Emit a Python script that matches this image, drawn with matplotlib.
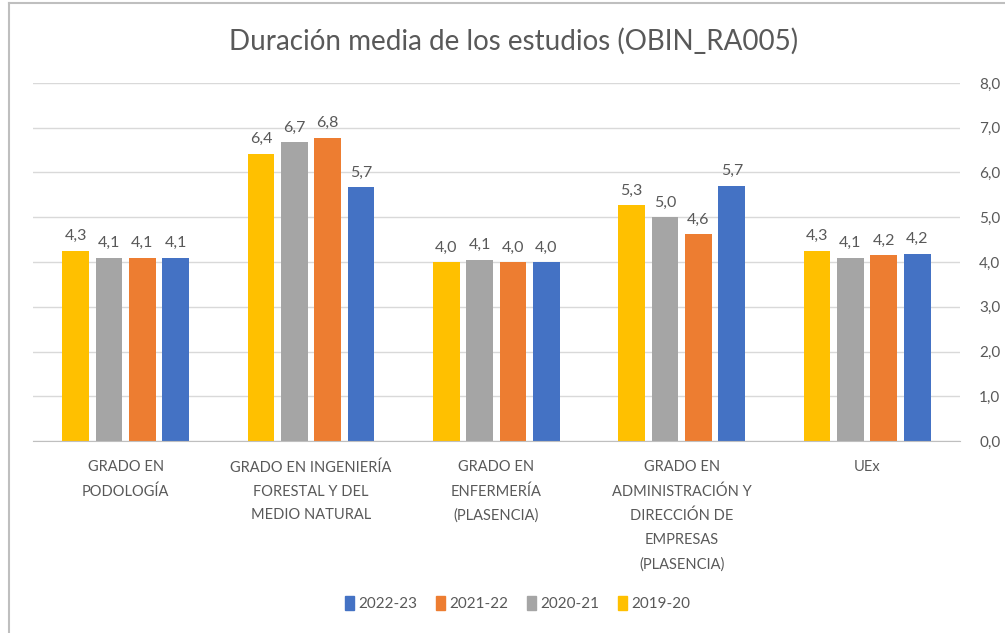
import numpy as np
import matplotlib.pyplot as plt
from matplotlib.lines import Line2D
from matplotlib.patches import Patch

plt.rcParams['font.family'] = ['Lato', 'DejaVu Sans']

categorias = ["GRADO EN\nPODOLOGÍA",
              "GRADO EN INGENIERÍA\nFORESTAL Y DEL\nMEDIO NATURAL",
              "GRADO EN\nENFERMERÍA\n(PLASENCIA)",
              "GRADO EN\nADMINISTRACIÓN Y\nDIRECCIÓN DE\nEMPRESAS\n(PLASENCIA)",
              "UEx"]
cursos = ["2019-20", "2020-21", "2021-22", "2022-23"]
v_2019 = [4.25, 6.42, 4.0, 5.27, 4.25]
v_2020 = [4.1, 6.68, 4.05, 5.0, 4.1]
v_2021 = [4.1, 6.78, 4.0, 4.62, 4.15]
v_2022 = [4.1, 5.67, 4.0, 5.7, 4.18]
etiquetas = {
    "2019-20": ["4,3", "6,4", "4,0", "5,3", "4,3"],
    "2020-21": ["4,1", "6,7", "4,1", "5,0", "4,1"],
    "2021-22": ["4,1", "6,8", "4,0", "4,6", "4,2"],
    "2022-23": ["4,1", "5,7", "4,0", "5,7", "4,2"],
}
valores = {"2019-20": v_2019, "2020-21": v_2020,
           "2021-22": v_2021, "2022-23": v_2022}
colores = {"2019-20": "#FFC000", "2020-21": "#A5A5A5",
           "2021-22": "#ED7D31", "2022-23": "#4472C4"}

gris_txt = "#595959"

fig = plt.figure(figsize=(10.05, 6.33), dpi=100)
ax = fig.add_axes([0.0328, 0.3033, 0.9222, 0.5656])

x = np.arange(len(categorias))
paso = 0.18
ancho = 0.145
for i, c in enumerate(cursos):
    pos = x + (i - 1.5) * paso
    ax.bar(pos, valores[c], width=ancho, color=colores[c], zorder=3)
    for p, v, t in zip(pos, valores[c], etiquetas[c]):
        ax.text(p, v + 0.17, t, ha="center", va="bottom", fontsize=11.5,
                color=gris_txt)

ax.set_xlim(-0.5, len(categorias) - 0.5)
ax.set_ylim(0, 8)
ax.set_yticks(np.arange(0, 9, 1))
ax.set_yticklabels([f"{v:.1f}".replace(".", ",") for v in range(0, 9)])
ax.yaxis.tick_right()
ax.tick_params(axis="y", length=0, pad=14, labelsize=11, labelcolor=gris_txt)
ax.set_xticks(x)
ax.set_xticklabels(categorias, fontsize=10.5, color=gris_txt, linespacing=1.87)
ax.tick_params(axis="x", length=0, pad=14)
ax.grid(axis="y", color="#D9D9D9", linewidth=1, zorder=0)
for s in ["top", "left", "right"]:
    ax.spines[s].set_visible(False)
ax.spines["bottom"].set_color("#BFBFBF")
ax.spines["bottom"].set_zorder(4)

fig.text(0.511, 0.934, "Duración media de los estudios (OBIN_RA005)",
         ha="center", va="center", fontsize=20, color=gris_txt)

handles = [Patch(color=colores[c]) for c in cursos[::-1]]
fig.legend(handles, cursos[::-1], loc="center", bbox_to_anchor=(0.515, 0.046),
           ncol=4, frameon=False, fontsize=11, labelcolor=gris_txt,
           handlelength=0.6, handleheight=1.0, handletextpad=0.3,
           columnspacing=1.2)

# marco del gráfico (recortado)
fig.add_artist(Line2D([0.0085, 0.0085], [0, 0.995], color="#BFBFBF", lw=1.5))
fig.add_artist(Line2D([0.0085, 1.0], [0.995, 0.995], color="#BFBFBF", lw=1.5))

fig.savefig("out.png", dpi=100)
